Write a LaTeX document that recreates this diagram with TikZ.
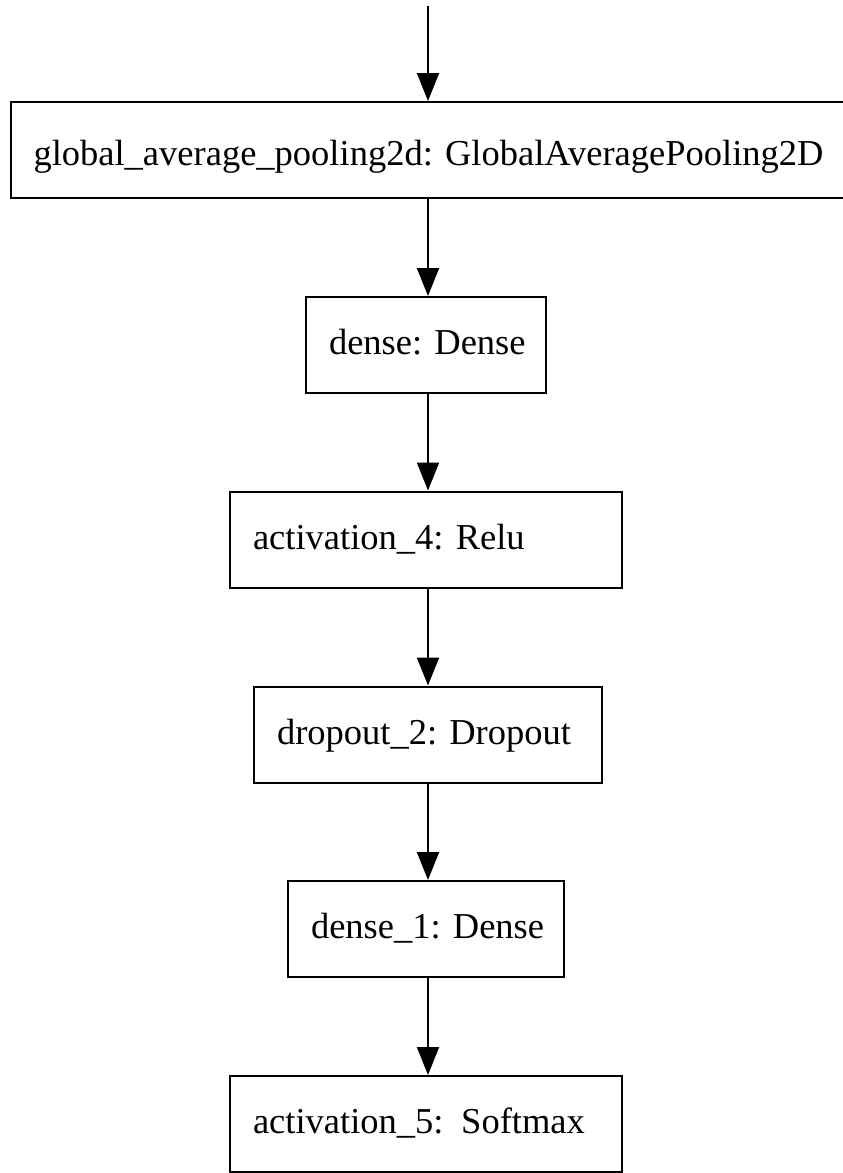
\documentclass[tikz,border=0pt]{standalone}
\usepackage{fontspec}
\setmainfont{Liberation Serif}
\usetikzlibrary{arrows.meta}
\begin{document}
\frenchspacing
\begin{tikzpicture}[x=1pt,y=-1pt,
  layer/.style={draw=black, line width=2pt, rectangle, minimum height=96pt,
    inner xsep=23pt, inner ysep=0pt, align=left, text height=19pt, text depth=0pt,
    font=\fontsize{36.5}{40}\selectfont\frenchspacing},
  flow/.style={draw=black, line width=2pt, -{Triangle[length=28pt,width=22pt]}}]
\useasboundingbox (0,0) rectangle (843,1173);
\clip (0,0) rectangle (843,1173);
\fill[white] (0,0) rectangle (843,1173);
\coordinate (in) at (428,6);
\node[layer, text width=790pt, text height=30pt] (gap) at (428.5,150) {\mbox{global\_average\_pooling2d: GlobalAveragePooling2D}};
\node[layer, text width=194pt] (d) at (426,345) {\mbox{dense: Dense}};
\node[layer, text width=346pt] (a4) at (426,539.5) {\mbox{activation\_4: Relu}};
\node[layer, text width=302pt] (dr) at (428,734.5) {\mbox{dropout\_2: Dropout}};
\node[layer, text width=230pt] (d1) at (426,929) {\mbox{dense\_1: Dense}};
\node[layer, text width=346pt] (a5) at (426,1124) {\mbox{activation\_5:\hspace{0.15em} Softmax}};
\draw[flow] (in) -- (gap.north -| in);
\draw[flow] (gap.south -| in) -- (d.north -| in);
\draw[flow] (d.south -| in) -- (a4.north -| in);
\draw[flow] (a4.south -| in) -- (dr.north -| in);
\draw[flow] (dr.south -| in) -- (d1.north -| in);
\draw[flow] (d1.south -| in) -- (a5.north -| in);
\end{tikzpicture}
\end{document}
